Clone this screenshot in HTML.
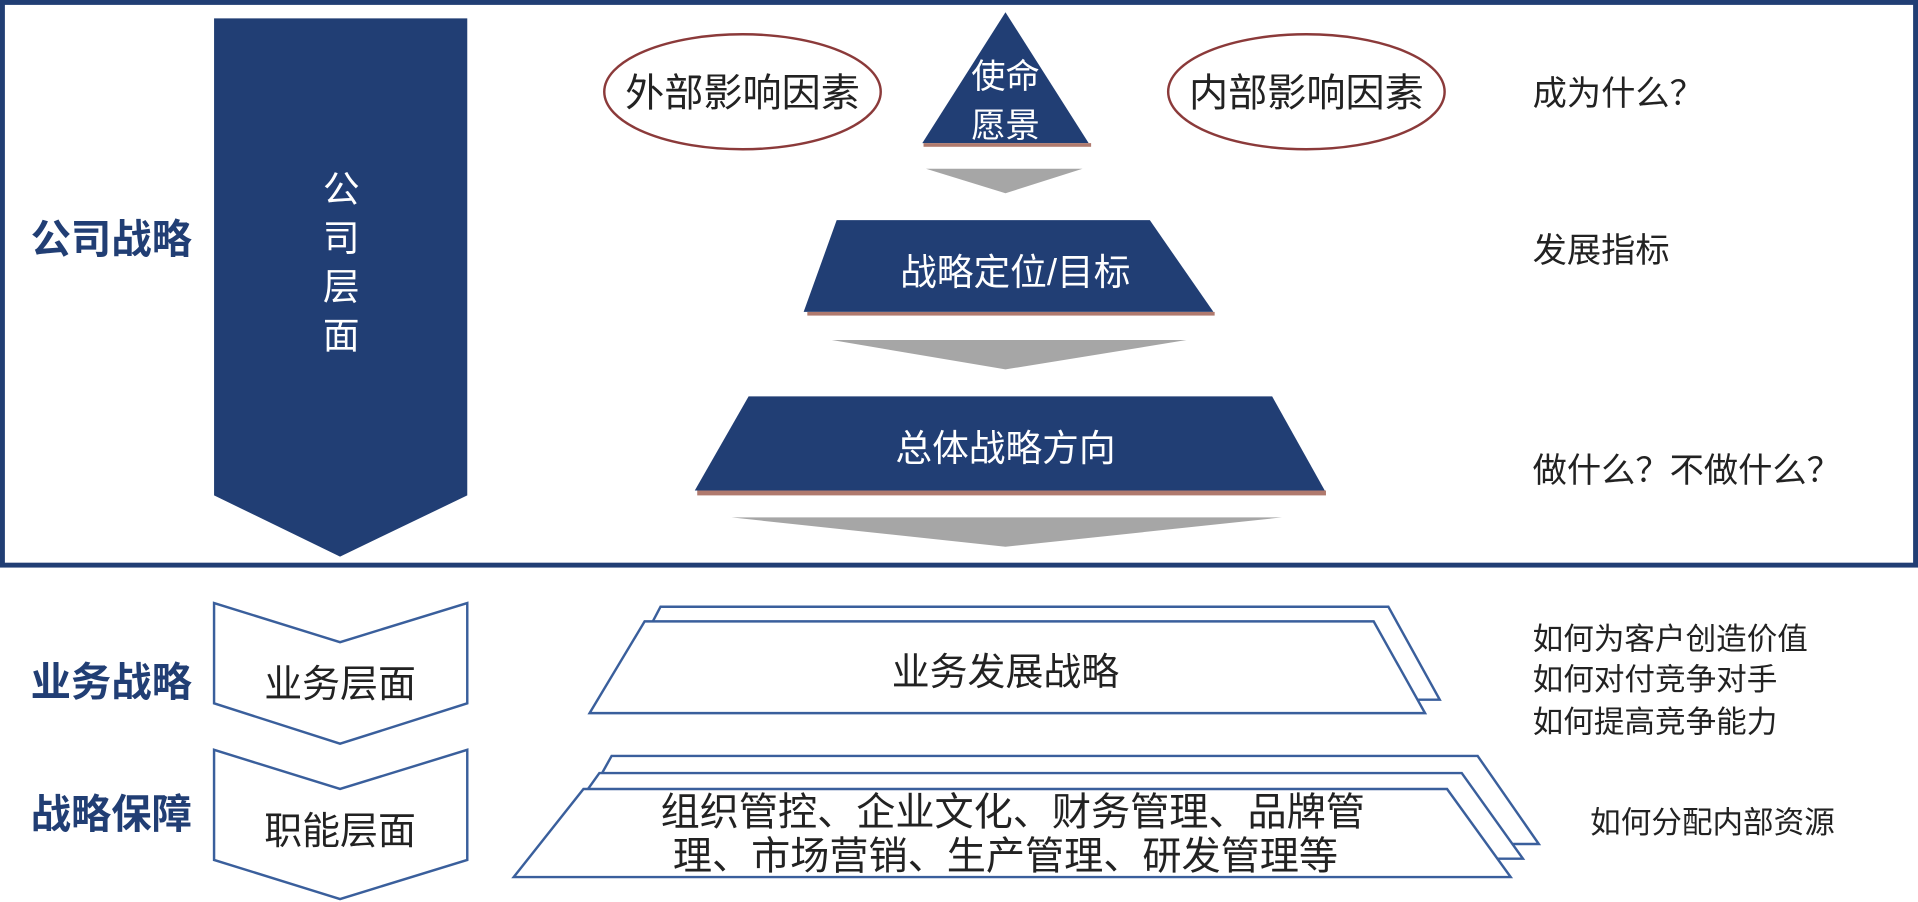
<!DOCTYPE html>
<html><head><meta charset="utf-8"><style>
html,body{margin:0;padding:0;background:#fff;width:1918px;height:902px;overflow:hidden}
svg text{font-family:"Liberation Sans","Noto Sans CJK SC",sans-serif}
</style></head><body>
<svg width="1918" height="902" viewBox="0 0 1568 737.4" xmlns="http://www.w3.org/2000/svg">
<rect x="2" y="2" width="1564" height="460" fill="none" stroke="#213e74" stroke-width="4"/>
<polygon points="175,15 382,15 382,405 278,455 175,405" fill="#213e74"/>
<g fill="#fff" font-size="30" text-anchor="middle">
<text x="279" y="165">公</text><text x="279" y="205">司</text><text x="279" y="245">层</text><text x="279" y="285">面</text>
</g>
<text x="25" y="207" font-size="33" font-weight="bold" fill="#213e74">公司战略</text>
<ellipse cx="607" cy="75" rx="113" ry="47" fill="#fff" stroke="#8b3a3a" stroke-width="2"/>
<text x="607" y="87" font-size="32" text-anchor="middle" fill="#222">外部影响因素</text>
<ellipse cx="1068" cy="75" rx="113" ry="47" fill="#fff" stroke="#8b3a3a" stroke-width="2"/>
<text x="1068" y="87" font-size="32" text-anchor="middle" fill="#222">内部影响因素</text>
<polygon points="822,10 890,117 754,117" fill="#213e74"/>
<rect x="755" y="117" width="137" height="3" fill="#b07a6e"/>
<text x="822" y="72" font-size="28" fill="#fff" text-anchor="middle">使命</text>
<text x="822" y="112" font-size="28" fill="#fff" text-anchor="middle">愿景</text>
<polygon points="757,138 885,138 822,158" fill="#a6a6a6"/>
<polygon points="684,180 940,180 992,255 657,255" fill="#213e74"/>
<rect x="660" y="255" width="333" height="3" fill="#b07a6e"/>
<text x="830" y="233" font-size="30" fill="#fff" text-anchor="middle">战略定位/目标</text>
<polygon points="680,278 970,278 822,302" fill="#a6a6a6"/>
<polygon points="612,324 1040,324 1083,401 568,401" fill="#213e74"/>
<rect x="570" y="401" width="514" height="4" fill="#b07a6e"/>
<text x="822" y="377" font-size="30" fill="#fff" text-anchor="middle">总体战略方向</text>
<polygon points="598,423 1048,423 822,447" fill="#a6a6a6"/>
<g font-size="28" fill="#222">
<text x="1253" y="86">成为什么？</text>
<text x="1253" y="214">发展指标</text>
<text x="1253" y="394">做什么？不做什么？</text>
</g>
<g fill="#fff" stroke="#3a5f9c" stroke-width="2">
<polygon points="175,493 278,525 382,493 382,575 278,608 175,575"/>
<polygon points="175,613 278,645 382,613 382,703 278,735 175,703"/>
</g>
<text x="25" y="569" font-size="33" font-weight="bold" fill="#213e74">业务战略</text>
<text x="25" y="677" font-size="33" font-weight="bold" fill="#213e74">战略保障</text>
<text x="278" y="570" font-size="31" fill="#222" text-anchor="middle">业务层面</text>
<text x="278" y="690" font-size="31" fill="#222" text-anchor="middle">职能层面</text>
<g fill="#fff" stroke="#3a5f9c" stroke-width="2">
<polygon points="540,496 1135,496 1177,572 500,572"/>
<polygon points="527,508 1123,508 1165,583 482,583"/>
</g>
<text x="822" y="560" font-size="31" fill="#222" text-anchor="middle">业务发展战略</text>
<g font-size="25" fill="#222">
<text x="1253" y="531">如何为客户创造价值</text>
<text x="1253" y="564">如何对付竞争对手</text>
<text x="1253" y="599">如何提高竞争能力</text>
<text x="1300" y="681">如何分配内部资源</text>
</g>
<g fill="#fff" stroke="#3a5f9c" stroke-width="2">
<polygon points="500,618 1208,618 1258,690 460,690"/>
<polygon points="490,632 1195,632 1245,702 440,702"/>
<polygon points="477,645 1183,645 1235,717 420,717"/>
</g>
<text x="828" y="675" font-size="32" fill="#222" text-anchor="middle">组织管控、企业文化、财务管理、品牌管</text>
<text x="822" y="711" font-size="32" fill="#222" text-anchor="middle">理、市场营销、生产管理、研发管理等</text>
</svg>
</body></html>
